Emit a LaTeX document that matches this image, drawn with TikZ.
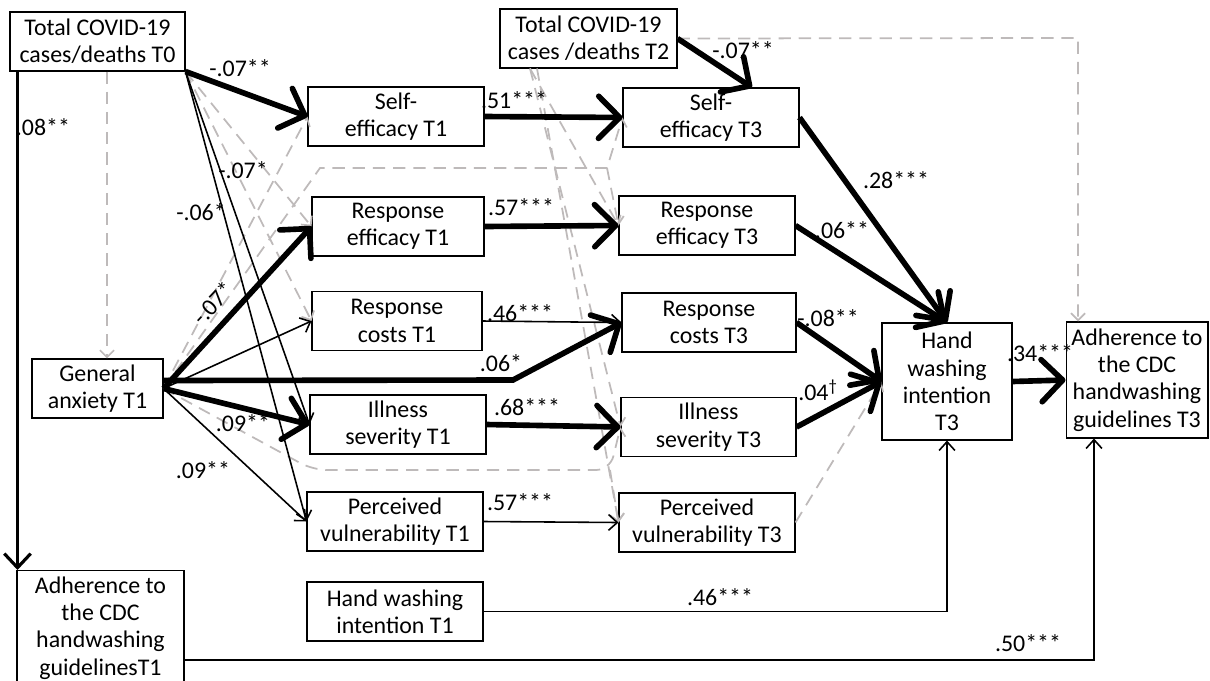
\documentclass[tikz,border=0pt]{standalone}
\usepackage{fontspec}
\setmainfont{Carlito}
\usetikzlibrary{arrows.meta}
\definecolor{nsgray}{RGB}{190,186,186}

\begin{document}
\begin{tikzpicture}[x=0.02cm, y=-0.02cm,
    every node/.style={font=\fontsize{13.6}{15.6}\selectfont},
    var/.style={draw, line width=0.6pt, inner sep=0pt, align=center, minimum height=1.18cm},
    coef/.style={inner sep=0pt},
    strong/.style={line width=3.2pt, -{Straight Barb[round, length=12pt, width=24pt]}},
    weak/.style={line width=0.9pt, -{Straight Barb[length=5pt, width=9pt]}},
    ns/.style={nsgray, line width=1pt, dash pattern=on 7pt off 4.5pt, -{Straight Barb[length=4pt, width=8pt]}}]
    \useasboundingbox (0,0) rectangle (1210,680);

    % exogenous variables
    \node[var, minimum width=3.5cm] (t0) at (97.5,41.5) {Total COVID-19\\cases/deaths T0};
    \node[var, minimum width=3.54cm] (t2) at (588.5,38.5) {Total COVID-19\\cases /deaths T2};
    \node[var, minimum width=2.62cm] (ga) at (97.5,388.5) {General\\anxiety T1};
    \node[var, minimum width=3.34cm, minimum height=2.3cm] (adh1) at (100.5,628) {Adherence to\\the CDC\\handwashing\\guidelinesT1};

    % T1 column
    \node[var, minimum width=3.52cm] (se1) at (396,116.5) {Self-\\efficacy T1};
    \node[var, minimum width=3.44cm] (re1) at (398,226.5) {Response\\efficacy T1};
    \node[var, minimum width=3.4cm] (rc1) at (397,321) {Response\\costs T1};
    \node[var, minimum width=3.52cm] (is1) at (398,424.5) {Illness\\severity T1};
    \node[var, minimum width=3.52cm] (pv1) at (395,521.5) {Perceived\\vulnerability T1};
    \node[var, minimum width=3.52cm] (hw1) at (395,611.5) {Hand washing\\intention T1};

    % T3 column
    \node[var, minimum width=3.52cm] (se3) at (711,117.5) {Self-\\efficacy T3};
    \node[var, minimum width=3.52cm] (re3) at (707,225.5) {Response\\efficacy T3};
    \node[var, minimum width=3.48cm] (rc3) at (709,322.5) {Response\\costs T3};
    \node[var, minimum width=3.5cm] (is3) at (708.5,427) {Illness\\severity T3};
    \node[var, minimum width=3.52cm] (pv3) at (707,522.5) {Perceived\\vulnerability T3};

    % outcomes
    \node[var, minimum width=2.6cm, minimum height=2.34cm] (hwi3) at (947,381.5) {Hand\\washing\\intention\\T3};
    \node[var, minimum width=2.84cm, minimum height=2.32cm] (adh3) at (1137,380) {Adherence to\\the CDC\\handwashing\\guidelines T3};

    % bends
    \coordinate (up1) at (320,168);
    \coordinate (up2) at (607,168);
    \coordinate (lo1) at (313,470);
    \coordinate (lo2) at (610,470);
    \coordinate (bend) at (513,380);
    \coordinate (corner) at (1078,38);
    \coordinate (t2out) at ([xshift=-1.17cm]t2.south);
    \coordinate (c0) at ([xshift=0.16cm]t0.south west);

    % non-significant paths
    \draw[ns] ([xshift=0.19cm]t0.south) -- ([xshift=0.19cm]ga.north);
    \draw[ns] (t0.south east) -- (re1.west);
    \draw[ns] (t0.south east) -- (rc1.west);
    \draw[ns] (ga.east) -- (se1.west);
    \draw[ns] (ga.east) -- (up1) -- (up2) -- (se3.west);
    \draw[ns] (up2) -- (re3.west);
    \draw[ns, rounded corners=8pt] (ga.east) -- (lo1) -- (lo2) -- (is3.west);
    \draw[ns] (lo2) -- (pv3.west);
    \draw[ns] (t2out) -- (re3.west);
    \draw[ns] (t2out) -- (is3.west);
    \draw[ns] ([xshift=0.14cm]t2out) -- (pv3.west);
    \draw[ns] (pv3.east) -- (hwi3.west);
    \draw[ns] (t2.east) -- (corner) -- (corner |- adh3.north);

    % significant paths
    \draw[line width=1.8pt, -{Straight Barb[length=8pt, width=15pt]}] (c0) -- (c0 |- adh1.north);
    \draw[strong] (t0.south east) -- (se1.west);
    \draw[weak] (t0.south east) -- (is1.west);
    \draw[weak] (t0.south east) -- (pv1.west);
    \draw[strong] (ga.east) -- (re1.west);
    \draw[weak] (ga.east) -- (rc1.west);
    \draw[strong] ([yshift=0.16cm]ga.east) -- (bend) -- (rc3.west);
    \draw[strong] (ga.east) -- (is1.west);
    \draw[weak] (ga.east) -- (pv1.west);
    \draw[strong] (se1.east) -- (se3.west);
    \draw[strong] (re1.east) -- (re3.west);
    \draw[weak] (rc1.east) -- (rc3.west);
    \draw[strong] (is1.east) -- (is3.west);
    \draw[weak] (pv1.east) -- (pv3.west);
    \draw[strong] (t2.east) -- ([xshift=0.82cm]se3.north);
    \draw[strong] (se3.east) -- (hwi3.north);
    \draw[strong] (re3.east) -- (hwi3.north);
    \draw[strong] (rc3.east) -- (hwi3.west);
    \draw[strong] (is3.east) -- (hwi3.west);
    \draw[strong] (hwi3.east) -- (adh3.west);
    \draw[weak] (hw1.east) -| (hwi3.south);
    \draw[weak] ([yshift=-0.64cm]adh1.east) -| ([xshift=-0.86cm]adh3.south);

    % coefficients
    \node[coef] (b1) at (43,127) {.08**};
    \node[coef] (b2) at (240,68) {-.07**};
    \node[coef] (b3) at (243,170) {-.07*};
    \node[coef] (b4) at (201,212) {-.06*};
    \node[coef, rotate=47] (b5) at (213,303) {-.07*};
    \node[coef] (b6) at (243,423) {.09**};
    \node[coef] (b7) at (203,470) {.09**};
    \node[coef] (b8) at (514,100) {.51***};
    \node[coef] (b9) at (521,207) {.57***};
    \node[coef] (b10) at (743,50) {-.07**};
    \node[coef] (b11) at (520,313) {.46***};
    \node[coef] (b12) at (501,363) {.06*};
    \node[coef] (b13) at (527,407) {.68***};
    \node[coef] (b14) at (520,502) {.57***};
    \node[coef] (b15) at (896,180) {.28***};
    \node[coef] (b16) at (842,230) {.06**};
    \node[coef] (b17) at (828,318) {-.08**};
    \node[coef] (b18) at (818,390) {.04\textsuperscript{†}};
    \node[coef] (b19) at (1040,353) {.34***};
    \node[coef] (b20) at (720,597) {.46***};
    \node[coef] (b21) at (1028,643) {.50***};

\end{tikzpicture}
\end{document}
